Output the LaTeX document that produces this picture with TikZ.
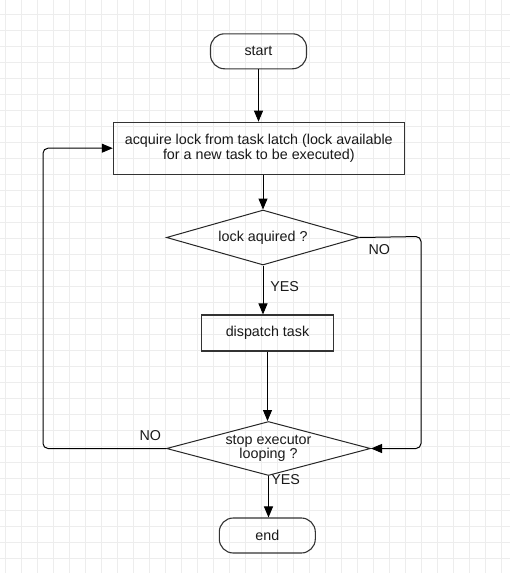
\documentclass[tikz,border=0pt]{standalone}
\usepackage{fontspec}
\setmainfont{Liberation Sans}
\usetikzlibrary{shapes.geometric,arrows.meta}
\begin{document}
\begin{tikzpicture}[x=1pt,y=-1pt,
  every node/.style={font=\fontsize{14.3}{14.5}\selectfont, text=black!90},
  term/.style={draw=black!80, line width=1.1pt, rounded corners=14pt, minimum width=96pt, minimum height=35pt, inner sep=0pt},
  proc/.style={draw=black!80, line width=1.1pt, inner sep=0pt, align=center},
  dec/.style={draw=black!85, line width=1pt, shape=diamond, inner sep=0pt, align=center},
  conn/.style={draw=black, line width=1pt, rounded corners=5pt},
  arr/.style={conn, -{Triangle[length=11pt,width=9pt]}},
  lbl/.style={inner sep=0pt}
]
\useasboundingbox (0,0) rectangle (512,573);
\fill[white] (0,0) rectangle (512,573);
\begin{scope}
\clip (0,0) rectangle (510,573);
\foreach \gx in {5,21,...,509} \draw[line width=0.8pt, color=black!7] (\gx,0) -- (\gx,573);
\foreach \gy in {14,30,...,573} \draw[line width=0.8pt, color=black!7] (0,\gy) -- (510,\gy);
\end{scope}

\node[term] (start) at (258.5,51.3) {start};
\node[proc, minimum width=291pt, minimum height=52pt] (acq) at (258.8,148.2) {acquire lock from task latch (lock available\\for a new task to be executed)};
\node[dec, minimum width=193pt, minimum height=55pt, aspect=3.5] (lock) at (263,237.5) {lock aquired ?};
\node[proc, minimum width=132pt, minimum height=36pt] (disp) at (267.5,333) {dispatch task};
\node[dec, minimum width=204pt, minimum height=54pt, aspect=3.78] (stop) at (268.5,448.5) {stop executor\\looping ?};
\node[term] (end) at (267.3,535.5) {end};

\coordinate (r1) at (421,236.5);
\coordinate (r2) at (421,448.5);
\coordinate (l1) at (43,448.5);
\coordinate (l2) at (43,148.2);

\draw[arr] (start.south) -- (start.south |- acq.north);
\draw[arr] (acq.south -| lock.north) -- (lock.north);
\draw[arr] (lock.south) -- (lock.south |- disp.north);
\draw[arr] (disp.south) -- (disp.south |- stop.north);
\draw[arr] (stop.south) -- (stop.south |- end.north);
\draw[arr] (lock.east) -- (r1) -- (r2) -- (stop.east);
\draw[arr] (stop.west) -- (l1) -- (l2) -- (acq.west);

\node[lbl] (no1) at (379.3,250) {NO};
\node[lbl] (yes1) at (284.7,286.3) {YES};
\node[lbl] (no2) at (150.3,435.3) {NO};
\node[lbl] (yes2) at (285.7,480) {YES};
\end{tikzpicture}
\end{document}
